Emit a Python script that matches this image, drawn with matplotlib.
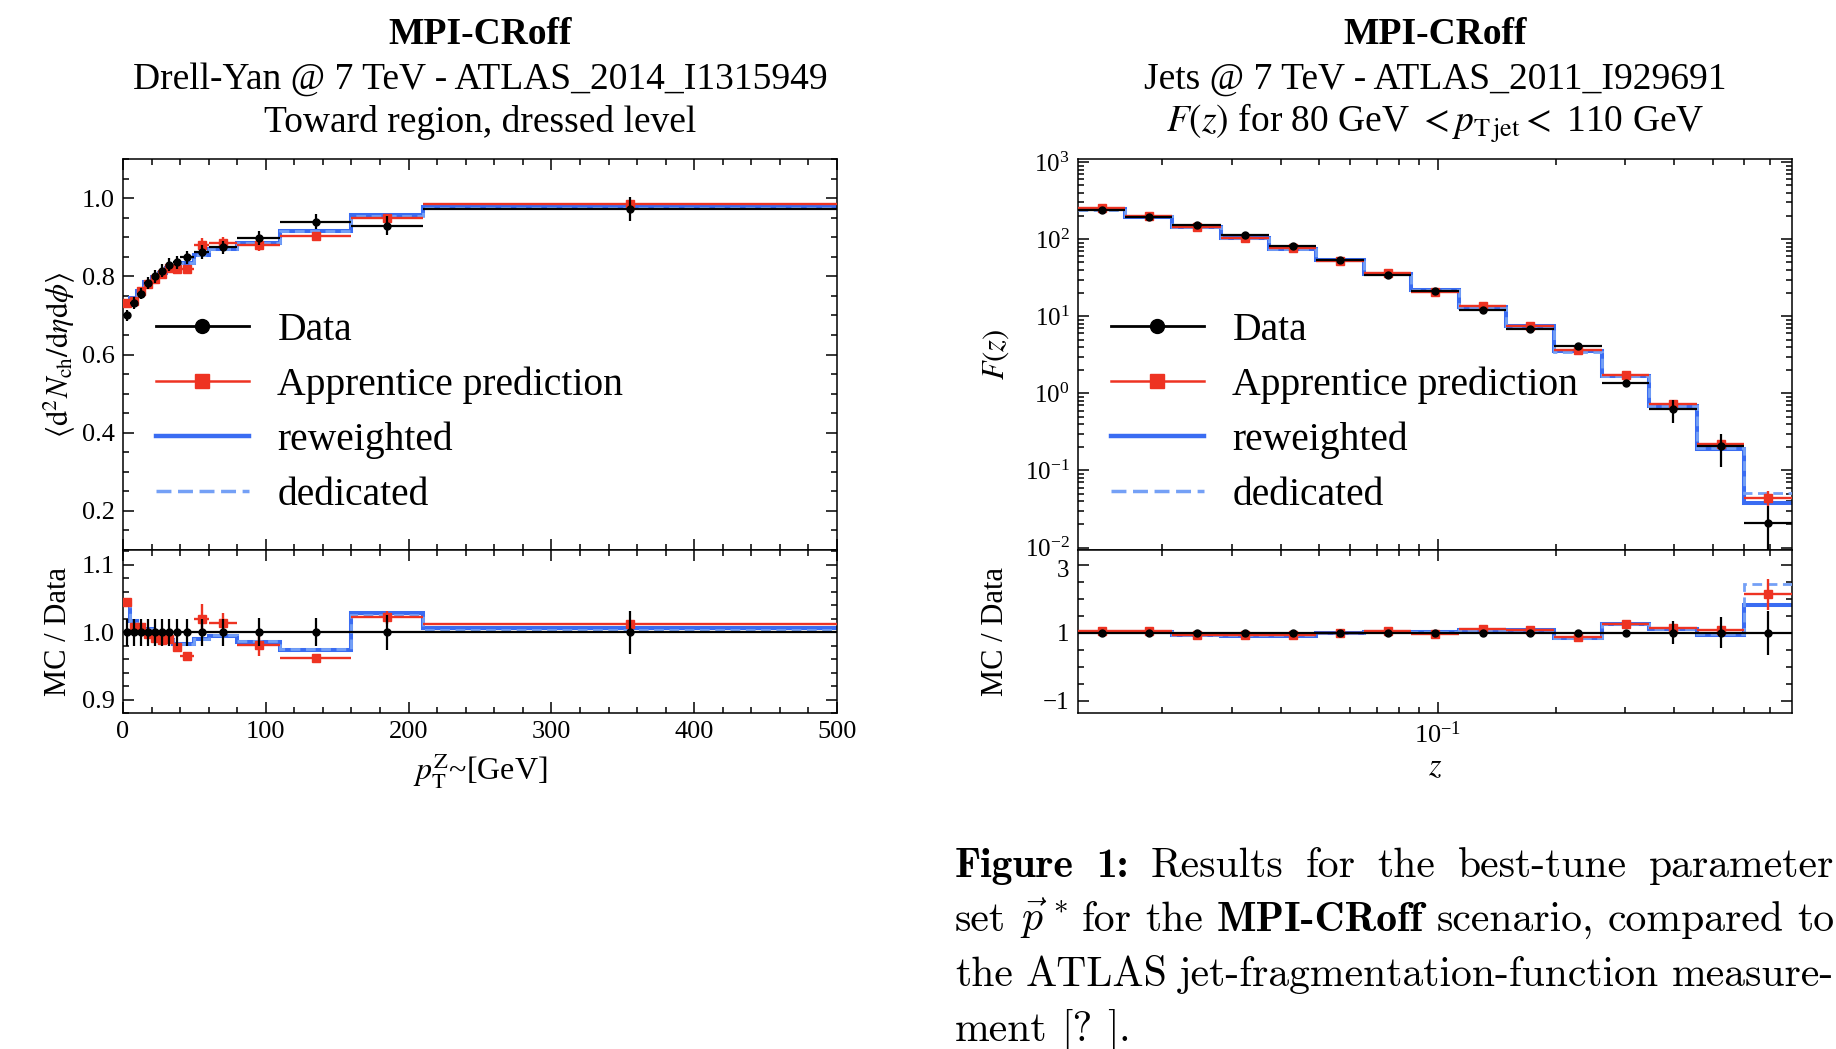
import numpy as np
import matplotlib.pyplot as plt
import matplotlib.transforms as mtransforms
from matplotlib.lines import Line2D
from matplotlib.ticker import MultipleLocator, FixedLocator, LogLocator, NullFormatter

plt.rcParams['font.family'] = ['Liberation Serif', 'DejaVu Serif']
plt.rcParams['mathtext.fontset'] = 'stix'

# ---- Drell-Yan, toward region (left panel) ----
dy_edges = [0, 5, 10, 15, 20, 25, 30, 35, 40, 50, 60, 80, 110, 160, 210, 500]
dy_data = [0.700, 0.732, 0.756, 0.783, 0.800, 0.814, 0.830, 0.836, 0.849, 0.862,
           0.874, 0.898, 0.940, 0.929, 0.972]
dy_data_err = [0.020, 0.020, 0.020, 0.020, 0.020, 0.020, 0.020, 0.020, 0.020, 0.020,
               0.020, 0.021, 0.021, 0.026, 0.032]          # relative
dy_app = [1.045, 1.008, 1.007, 0.997, 0.992, 0.989, 0.990, 0.978, 0.965, 1.020,
          1.013, 0.981, 0.962, 1.022, 1.012]                # MC / data
dy_app_err = [0.004, 0.004, 0.004, 0.004, 0.004, 0.004, 0.004, 0.004, 0.004, 0.022,
              0.016, 0.017, 0.004, 0.010, 0.004]
dy_rew = [1.040, 1.016, 1.010, 1.004, 0.998, 0.993, 0.988, 0.982, 0.983, 0.990,
          0.995, 0.986, 0.974, 1.029, 1.006]
dy_ded = [1.040, 1.016, 1.010, 1.004, 0.998, 0.993, 0.988, 0.982, 0.983, 0.990,
          0.996, 0.987, 0.975, 1.026, 1.003]

# ---- Jet fragmentation function (right panel) ----
ff_edges = [0.0122, 0.0161, 0.0212, 0.0281, 0.0373, 0.0492, 0.0650, 0.0858, 0.1133,
            0.1495, 0.1977, 0.2614, 0.3454, 0.4560, 0.6026, 0.7960]
ff_data = [240, 195, 155, 114, 82, 54, 34.5, 21.6, 12.1, 6.95, 4.14, 1.36, 0.625,
           0.205, 0.0208]
ff_data_err = [0.03, 0.03, 0.03, 0.03, 0.03, 0.03, 0.03, 0.03, 0.04, 0.05, 0.05, 0.08,
               0.33, 0.46, 0.65]                            # relative
ff_app = [1.05, 1.04, 0.92, 0.92, 0.93, 0.98, 1.05, 0.97, 1.12, 1.08, 0.88, 1.27,
          1.15, 1.07, 2.13]
ff_app_err = [0.01, 0.01, 0.01, 0.01, 0.01, 0.01, 0.01, 0.01, 0.02, 0.02, 0.03, 0.04,
              0.06, 0.08, 0.46]
ff_rew = [1.03, 1.01, 0.92, 0.91, 0.91, 0.99, 1.02, 1.03, 1.08, 1.07, 0.85, 1.25,
          1.10, 0.94, 1.81]
ff_ded = [1.01, 1.02, 0.93, 0.92, 0.92, 1.00, 1.03, 1.03, 1.07, 1.08, 0.83, 1.25,
          1.11, 0.96, 2.43]

legend_labels = ['Data', 'Apprentice prediction', 'reweighted', 'dedicated']

RED = '#ee3322'
BLUE = '#3a6cf2'
LBLUE = '#74a0f6'

W, H = 1836, 1049
fig = plt.figure(figsize=(W / 100, H / 100), dpi=100)


def box(x0, y0, x1, y1):
    # pixel box (top-left origin) -> figure fraction
    return [x0 / W, 1 - y1 / H, (x1 - x0) / W, (y1 - y0) / H]


axL = fig.add_axes(box(123, 159, 837, 550))
axLr = fig.add_axes(box(123, 550, 837, 713), sharex=axL)
axR = fig.add_axes(box(1078, 159, 1792, 550))
axRr = fig.add_axes(box(1078, 550, 1792, 713), sharex=axR)


def draw(ax, rax, edges, data, derr, app, apperr, rew, ded, logx):
    edges = np.asarray(edges, float)
    data = np.asarray(data, float)
    derr = np.asarray(derr)
    app, apperr = np.asarray(app), np.asarray(apperr)
    rew, ded = np.asarray(rew), np.asarray(ded)
    lo, hi = edges[:-1], edges[1:]
    cen = np.sqrt(lo * hi) if logx else 0.5 * (lo + hi)
    xerr = [cen - lo, hi - cen]

    # main panel uses absolute values, ratio panel uses MC / data
    for a, scale in ((ax, data), (rax, np.ones_like(data))):
        a.stairs(rew * scale, edges, baseline=None, color=BLUE, lw=2.9, zorder=2)
        a.stairs(ded * scale, edges, baseline=None, color=LBLUE, lw=2.0,
                 ls=(0, (3.5, 2)), zorder=3)
        a.errorbar(cen, app * scale, xerr=xerr, yerr=apperr * scale, fmt='s',
                   color=RED, ms=6, lw=1.7, zorder=4)
        a.errorbar(cen, scale, xerr=xerr, yerr=derr * scale,
                   fmt='o', color='black', ms=5, lw=1.6, zorder=5)


draw(axL, axLr, dy_edges, dy_data, dy_data_err, dy_app, dy_app_err, dy_rew, dy_ded, False)
draw(axR, axRr, ff_edges, ff_data, ff_data_err, ff_app, ff_app_err, ff_rew, ff_ded, True)

for a in (axL, axLr, axR, axRr):
    a.tick_params(which='both', direction='in', top=True, right=True, width=1.1,
                  labelsize=19, pad=6)
    a.tick_params(which='major', length=8)
    a.tick_params(which='minor', length=4.5)
    for s in a.spines.values():
        s.set_linewidth(1.1)
axL.tick_params(labelbottom=False)
axR.tick_params(labelbottom=False)
axR.tick_params(axis='y', labelsize=18)
axRr.tick_params(axis='y', labelsize=18)

# left axes
axL.set_xlim(0, 500)
axL.set_ylim(0.1, 1.1)
axL.yaxis.set_major_locator(MultipleLocator(0.2))
axL.yaxis.set_minor_locator(MultipleLocator(0.05))
axLr.xaxis.set_major_locator(MultipleLocator(100))
axLr.xaxis.set_minor_locator(MultipleLocator(20))
axLr.set_ylim(0.88, 1.122)
axLr.yaxis.set_major_locator(MultipleLocator(0.1))
axLr.yaxis.set_minor_locator(MultipleLocator(0.02))

# right axes
axR.set_xscale('log')
axR.set_yscale('log')
axR.set_xlim(ff_edges[0], ff_edges[-1])
axR.set_ylim(0.0093, 1100)
axR.yaxis.set_major_locator(LogLocator(base=10, numticks=20))
axR.yaxis.set_minor_locator(LogLocator(base=10, subs=np.arange(2, 10), numticks=20))
axR.yaxis.set_minor_formatter(NullFormatter())
axRr.xaxis.set_minor_formatter(NullFormatter())
axRr.set_ylim(-1.36, 3.43)
axRr.yaxis.set_major_locator(FixedLocator([-1, 1, 3]))
axRr.yaxis.set_minor_locator(MultipleLocator(0.5))

# nudge the top ratio label ("3") down a little so it clears 10^-2
top_tick = axRr.yaxis.get_major_ticks()[2]
top_tick.label1.set_transform(top_tick.label1.get_transform()
                              + mtransforms.ScaledTranslation(0, -4 / 100, fig.dpi_scale_trans))

# axis labels
axL.set_ylabel(r'$\langle\mathrm{d}^2N_{\mathrm{ch}}/\mathrm{d}\eta\mathrm{d}\phi\rangle$', fontsize=22)
axLr.set_ylabel('MC / Data', fontsize=22)
axR.set_ylabel('$F(z)$', fontsize=22)
axRr.set_ylabel('MC / Data', fontsize=22)
for a, xc in ((axL, -0.090), (axLr, -0.090), (axR, -0.115), (axRr, -0.115)):
    a.yaxis.label.set_va('center')
    a.yaxis.set_label_coords(xc, 0.5)
axLr.set_xlabel(r'$p_{\mathrm{T}}^{\mathrm{Z}}$~[GeV]', fontsize=23)
axRr.set_xlabel('$z$', fontsize=23)
axLr.xaxis.label.set_va('center')
axRr.xaxis.label.set_va('center')
axLr.xaxis.set_label_coords(0.5, -0.353)
axRr.xaxis.set_label_coords(0.5, -0.335)

# legends
handles = [Line2D([], [], color='black', marker='o', ms=10, lw=2),
           Line2D([], [], color=RED, marker='s', ms=10, lw=1.8),
           Line2D([], [], color=BLUE, lw=3.2),
           Line2D([], [], color=LBLUE, lw=2.5, ls=(0, (4.3, 1.9)))]
for a in (axL, axR):
    a.legend(handles, legend_labels, loc='center left', bbox_to_anchor=(0.046, 0.351),
             frameon=False, fontsize=28.5, handlelength=2.35, handletextpad=0.72,
             labelspacing=0.45, borderpad=0, borderaxespad=0)

# titles
titles = {
    480 / W: ['Drell-Yan @ 7 TeV - ATLAS_2014_I1315949', 'Toward region, dressed level'],
    1435 / W: ['Jets @ 7 TeV - ATLAS_2011_I929691',
               r'$F(z)$ for 80 GeV $<p_{\mathrm{T\,jet}}<$ 110 GeV'],
}
for xc, lines in titles.items():
    fig.text(xc, 1 - 44.5 / H, 'MPI-CRoff', ha='center', va='baseline', fontsize=27,
             weight='bold')
    fig.text(xc, 1 - 89 / H, lines[0], ha='center', va='baseline', fontsize=27)
    fig.text(xc, 1 - 132.3 / H, lines[1], ha='center', va='baseline', fontsize=27)

# caption, justified line by line
caption = [
    ([('Figure', True), ('1:', True), ('Results', False), ('for', False), ('the', False),
      ('best-tune', False), ('parameter', False)], True),
    ([('set', False), (r'$\vec{p}^{\,*}$', False), ('for', False), ('the', False),
      ('MPI-CRoff', True), ('scenario,', False), ('compared', False), ('to', False)], True),
    ([('the', False), ('ATLAS', False), ('jet-fragmentation-function', False),
      ('measure-', False)], True),
    ([('ment', False), ('[?', False), (']', False), ('.', False)], False),
]
cap_base = [877, 931, 986, 1041]
cap_x0, cap_x1 = 955 / W, 1834 / W
r = fig.canvas.get_renderer()
for (words, justify), yb in zip(caption, cap_base):
    ts = [fig.text(0, 1 - yb / H, w, fontsize=30, va='baseline',
                   family='cmb10' if b else 'cmr10', math_fontfamily='cm')
          for w, b in words]
    widths = [t.get_window_extent(r).width / W for t in ts]
    if justify:
        gap = (cap_x1 - cap_x0 - sum(widths)) / (len(ts) - 1)
    else:
        gap = 14 / W
    x = cap_x0
    for i, (t, w) in enumerate(zip(ts, widths)):
        if not justify and i == 3:
            x -= gap
        t.set_x(x)
        x += w + gap

fig.savefig('out.png', dpi=100)
